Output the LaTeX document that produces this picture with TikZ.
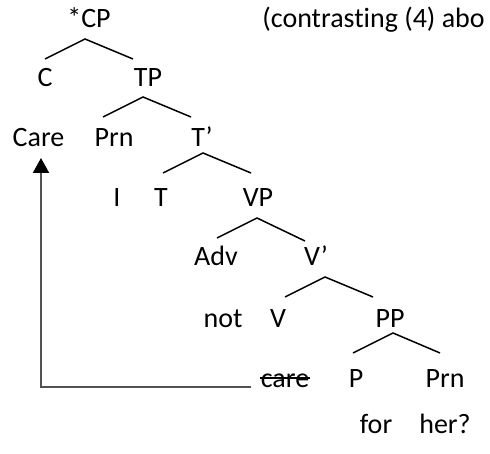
\documentclass[tikz,border=0pt]{standalone}
\usepackage{fontspec}
\setmainfont{Carlito}[Ligatures=NoCommon]
\usetikzlibrary{arrows.meta}
\begin{document}
\begin{tikzpicture}[x=0.5pt,y=-0.5pt,
  lbl/.style={anchor=base,inner sep=0pt,font=\fontsize{14pt}{17pt}\selectfont},
  branch/.style={line width=0.75pt},
  move/.style={draw=black!68,line width=1pt,-{Triangle[width=8pt,length=7.5pt,color=black]}}]
\useasboundingbox (0,0) rectangle (490,453);
\node[lbl] (cp) at (89,28) {*CP};
\node[lbl,anchor=base west] (note) at (262,28) {(contrasting (4) abo};
\node[lbl] (c) at (45,87) {C};
\node[lbl] (tp) at (148,87) {TP};
\node[lbl] (care) at (38.5,147) {Care};
\node[lbl] (prn) at (114,147) {Prn};
\node[lbl] (tbar) at (202,147) {T’};
\node[lbl] (i) at (117,207) {I};
\node[lbl] (t) at (161,207) {T};
\node[lbl] (vp) at (258,207) {VP};
\node[lbl] (adv) at (216,265) {Adv};
\node[lbl] (vbar) at (316,265) {V’};
\node[lbl] (not) at (223,327) {not};
\node[lbl] (v) at (278,327) {V};
\node[lbl] (pp) at (390,327) {PP};
\node[lbl] (carex) at (285,387) {care};
\node[lbl] (p) at (356,387) {P};
\node[lbl] (prnb) at (445,387) {Prn};
\node[lbl] (for) at (376,433) {for};
\node[lbl] (her) at (445,433) {her?};
% branches
\draw[branch] ([shift={(0,-28)}]c.base) -- ([shift={(-4,11)}]cp.base) -- ([shift={(-15,-28)}]tp.base);
\draw[branch] ([shift={(-11,-30)}]prn.base) -- ([shift={(-5,10)}]tp.base) -- ([shift={(-11,-30)}]tbar.base);
\draw[branch] ([shift={(2,-34)}]t.base) -- ([shift={(1,6)}]tbar.base) -- ([shift={(-7,-34)}]vp.base);
\draw[branch] ([shift={(1,-27)}]adv.base) -- ([shift={(-1,11)}]vp.base) -- ([shift={(-11,-24)}]vbar.base);
\draw[branch] ([shift={(7,-30)}]v.base) -- ([shift={(9,12)}]vbar.base) -- ([shift={(-17,-30)}]pp.base);
\draw[branch] ([shift={(-3,-34)}]p.base) -- ([shift={(3,6)}]pp.base) -- ([shift={(-5,-34)}]prnb.base);
% struck-out copy and movement
\draw[line width=0.6pt] ([shift={(0,-9)}]carex.base west) -- ([shift={(0,-9)}]carex.base east);
\draw[move] ([shift={(-9,0)}]carex.base west) -| ([shift={(2.5,11)}]care.base);
\end{tikzpicture}
\end{document}
